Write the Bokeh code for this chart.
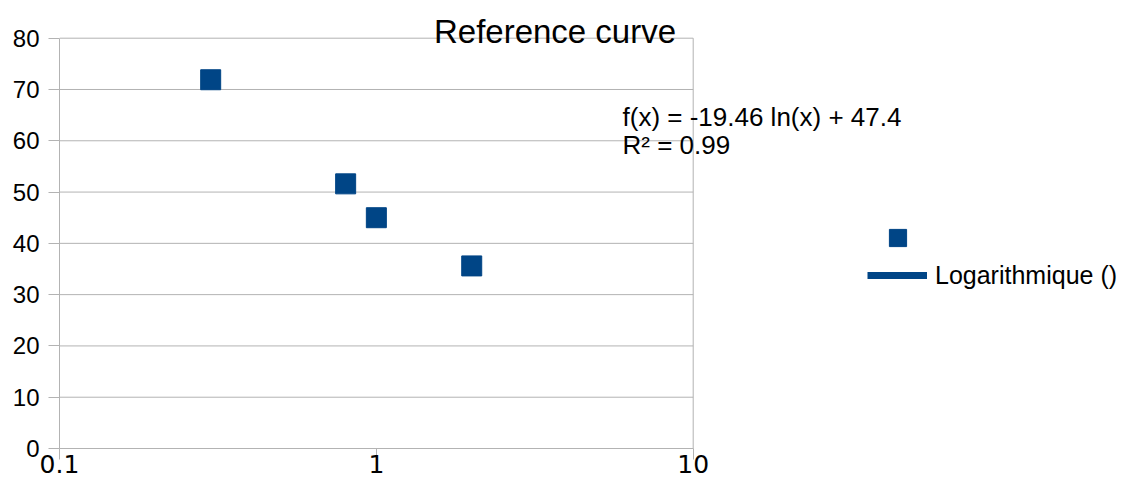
from bokeh.plotting import figure
from bokeh.models import (FixedTicker, Label, Legend, LegendItem, Range1d,
                          CustomJSTickFormatter)
from bokeh.embed import file_html
from bokeh.resources import INLINE

# ---- data ----
x_vals = [0.3, 0.8, 1.0, 2.0]
y_vals = [71.9, 51.6, 45.0, 35.6]
x_ticks = [0.1, 1, 10]
y_ticks = [0, 10, 20, 30, 40, 50, 60, 70, 80]
title_text = "Reference curve"
equation_lines = ["f(x) = -19.46 ln(x) + 47.4", "R² = 0.99"]
trend_label = "Logarithmique ()"

COLOR = "#004586"
GRID = "#b3b3b3"

# ---- layout (pixels) ----
W, H = 1122, 478
FL, FB = 59, 448                 # frame left / frame bottom (frame top = 0, right = W)
PX_Y80 = 37.7                    # where y=80 sits
PX_X01, PX_X10 = 59.0, 692.7     # where x=0.1 and x=10 sit
k = (FB - PX_Y80) / (y_ticks[-1] - y_ticks[0])
y_start = y_ticks[0]
y_end = y_start + FB / k
dec = (PX_X10 - PX_X01) / 2.0
x_start = 10 ** (-1 - (PX_X01 - FL) / dec)
x_end = 10 ** (-1 + (W - PX_X01) / dec)

p = figure(width=W, height=H, x_axis_type="log",
           x_range=Range1d(x_start, x_end), y_range=Range1d(y_start, y_end),
           output_backend="svg", toolbar_location=None,
           min_border_left=FL, min_border_right=0,
           min_border_top=0, min_border_bottom=H - FB)
p.outline_line_color = None
p.background_fill_color = "white"
p.border_fill_color = "white"
p.xgrid.visible = False
p.ygrid.visible = False

# y axis
ya = p.yaxis[0]
ya.ticker = FixedTicker(ticks=y_ticks, minor_ticks=[])
ya.bounds = (y_ticks[0], y_ticks[-1])
ya.axis_line_color = GRID
ya.major_tick_line_color = GRID
ya.minor_tick_line_color = None
ya.major_tick_out = 11
ya.major_tick_in = 0
ya.major_label_text_font = "Liberation Sans"
ya.major_label_text_font_size = "24px"
ya.major_label_text_color = "black"
ya.major_label_standoff = 9

# x axis
xa = p.xaxis[0]
xa.ticker = FixedTicker(ticks=x_ticks, minor_ticks=[])
xa.bounds = (x_ticks[0], x_ticks[-1])
xa.formatter = CustomJSTickFormatter(code="return String(Number(tick.toPrecision(6)));")
xa.axis_line_color = GRID
xa.major_tick_line_color = GRID
xa.minor_tick_line_color = None
xa.major_tick_out = 11
xa.major_tick_in = 0
xa.major_label_text_font = "DejaVu Sans"
xa.major_label_text_font_size = "25px"
xa.major_label_text_color = "black"
xa.major_label_standoff = -5

# horizontal grid lines between x = 0.1 and x = 10, and the right border at x = 10
p.segment(x0=[x_ticks[0]] * len(y_ticks), x1=[x_ticks[-1]] * len(y_ticks),
          y0=y_ticks, y1=y_ticks, line_color=GRID, line_width=1)
p.segment(x0=[x_ticks[-1]], x1=[x_ticks[-1]], y0=[y_ticks[0]], y1=[y_ticks[-1]],
          line_color=GRID, line_width=1)

# points
sc = p.scatter(x_vals, y_vals, marker="square", size=20,
               fill_color=COLOR, line_color=COLOR)
# trend line: only its legend entry shows in the reference
tl = p.line(x_vals, y_vals, line_color=COLOR, line_width=7, visible=False)

# title
p.add_layout(Label(x=495.5, y=FB - 43.5 + 13, x_units="screen", y_units="screen",
                   text=title_text, text_align="center", text_baseline="alphabetic",
                   text_font="Liberation Sans", text_font_size="33px", text_color="black"))

# equation
eq_base = [127.3, 155.0]
for line, b in zip(equation_lines, eq_base):
    p.add_layout(Label(x=622 - FL, y=FB - b + 11, x_units="screen", y_units="screen",
                       text=line, text_align="left", text_baseline="alphabetic",
                       text_font="Liberation Sans", text_font_size="26px",
                       text_color="black"))

# legends (shifted a little left so the text fits in the canvas)
shift = 13
leg1 = Legend(items=[LegendItem(label=" ", renderers=[sc])],
              location=(910 - shift - FL - 21.5, FB - 237 - 21.5),
              glyph_width=43, glyph_height=43,
              padding=0, margin=0, spacing=0, label_standoff=0,
              background_fill_alpha=0, border_line_alpha=0)
leg2 = Legend(items=[LegendItem(label=trend_label, renderers=[tl])],
              location=(880 - shift - FL, FB - 275 - 15),
              glyph_width=60, glyph_height=30, label_height=30,
              padding=0, margin=0, spacing=0, label_standoff=8,
              label_text_font="Liberation Sans", label_text_font_size="25px",
              label_text_color="black",
              background_fill_alpha=0, border_line_alpha=0)
p.add_layout(leg1, "center")
p.add_layout(leg2, "center")

open("out.html", "w").write(file_html(p, INLINE))
